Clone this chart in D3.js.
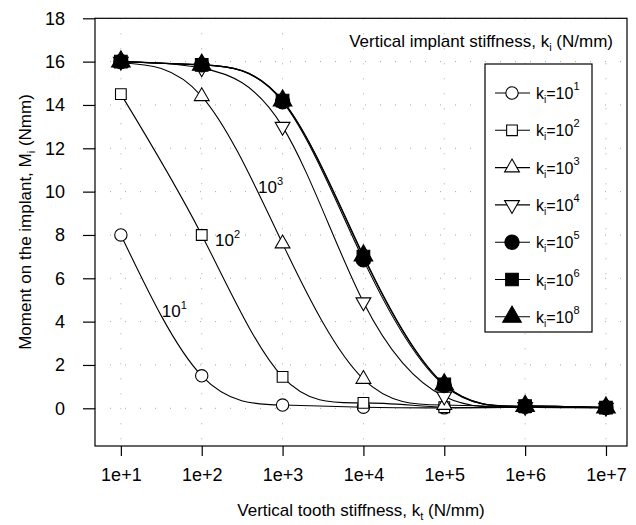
<!DOCTYPE html>
<html><head><meta charset="utf-8">
<script src="https://cdn.jsdelivr.net/npm/d3@7"></script>
<style>
body{margin:0;background:#fff;}
svg{display:block;}
text{font-family:"Liberation Sans",Arial,sans-serif;fill:#000;}
</style></head>
<body><svg id="c" width="636" height="525"></svg>
<script>
const xValues = [1e1, 1e2, 1e3, 1e4, 1e5, 1e6, 1e7];
const xTickLabels = ["1e+1","1e+2","1e+3","1e+4","1e+5","1e+6","1e+7"];
const yTicks = [0,2,4,6,8,10,12,14,16,18];
const seriesNames = ["1","2","3","4","5","6","8"];
const k1 = [8.0, 1.5, 0.15, 0.05, 0.02, 0.05, 0.03];
const k2 = [14.5, 8.0, 1.45, 0.25, 0.05, 0.05, 0.03];
const k3 = [15.95, 14.4, 7.6, 1.35, 0.15, 0.05, 0.03];
const k4 = [16.0, 15.7, 13.0, 4.9, 0.55, 0.07, 0.03];
const k5 = [16.0, 15.85, 14.15, 6.85, 1.05, 0.1, 0.03];
const k6 = [16.0, 15.85, 14.2, 7.0, 1.1, 0.1, 0.03];
const k8 = [16.0, 15.85, 14.2, 7.05, 1.1, 0.1, 0.03];
const seriesValues = [k1,k2,k3,k4,k5,k6,k8];
const curveLabels = [{t:"1", x:32, y:4.2},{t:"2", x:146, y:7.5},{t:"3", x:497, y:9.93}];

const svg = d3.select("#c");
const L=95, R=627, T=18.3, B=446;
const x = d3.scaleLog().domain([Math.pow(10,0.68), Math.pow(10,7.26)]).range([L,R]);
const y = d3.scaleLinear().domain([-1.74,18]).range([B,T]);

// grid (faint dotted)
const g = svg.append("g");
g.selectAll(".gy").data(yTicks).enter().append("line")
 .attr("x1",L).attr("x2",R).attr("y1",d=>y(d)).attr("y2",d=>y(d))
 .attr("stroke","#aaa").attr("stroke-width",1).attr("stroke-dasharray","1,14");
g.selectAll(".gx").data(xValues).enter().append("line")
 .attr("y1",T).attr("y2",B).attr("x1",d=>x(d)).attr("x2",d=>x(d))
 .attr("stroke","#aaa").attr("stroke-width",1).attr("stroke-dasharray","1,14");

// frame
svg.append("rect").attr("x",L).attr("y",T).attr("width",R-L).attr("height",B-T)
 .attr("fill","none").attr("stroke","#000").attr("stroke-width",1.2);

// axes
const ax = svg.append("g").attr("transform",`translate(0,${B})`)
 .call(d3.axisBottom(x).tickValues(xValues).tickFormat((d,i)=>xTickLabels[i]).tickSizeInner(10).tickSizeOuter(0).tickPadding(12));
ax.select(".domain").remove();
ax.selectAll("text").attr("font-size",18).attr("font-family","Liberation Sans, Arial, sans-serif");
ax.selectAll("line").attr("stroke-width",1.2);
const ay = svg.append("g").attr("transform",`translate(${L},0)`)
 .call(d3.axisLeft(y).tickValues(yTicks).tickSizeInner(12).tickSizeOuter(0).tickPadding(18));
ay.select(".domain").remove();
ay.selectAll("text").attr("font-size",18).attr("font-family","Liberation Sans, Arial, sans-serif");
ay.selectAll("line").attr("stroke-width",1.2);

// axis titles
const xt = svg.append("text").attr("x",361).attr("y",516).attr("text-anchor","middle").attr("font-size",17);
xt.append("tspan").text("Vertical tooth stiffness, k");
xt.append("tspan").attr("font-size",11).attr("dy",4).text("t");
xt.append("tspan").attr("dy",-4).text(" (N/mm)");
const yt = svg.append("text").attr("transform","translate(31,222) rotate(-90)").attr("text-anchor","middle").attr("font-size",17);
yt.append("tspan").text("Moment on the implant, M");
yt.append("tspan").attr("font-size",11).attr("dy",4).text("i");
yt.append("tspan").attr("dy",-4).text(" (Nmm)");

// top annotation
const ta = svg.append("text").attr("x",613).attr("y",47).attr("text-anchor","end").attr("font-size",17);
ta.append("tspan").text("Vertical implant stiffness, k");
ta.append("tspan").attr("font-size",11).attr("dy",4).text("i");
ta.append("tspan").attr("dy",-4).text(" (N/mm)");

// markers
const markers = [
 {type:d3.symbolCircle, size:120, fill:"#fff", rot:0},
 {type:d3.symbolSquare, size:115, fill:"#fff", rot:0},
 {type:d3.symbolTriangle, size:95, fill:"#fff", rot:0},
 {type:d3.symbolTriangle, size:95, fill:"#fff", rot:180},
 {type:d3.symbolCircle, size:160, fill:"#000", rot:0},
 {type:d3.symbolSquare, size:160, fill:"#000", rot:0},
 {type:d3.symbolTriangle, size:150, fill:"#000", rot:0}
];

const line = d3.line().x(d=>x(d[0])).y(d=>y(d[1])).curve(d3.curveNatural);
seriesValues.forEach((vals,si)=>{
  const pts = xValues.map((xv,i)=>[xv,vals[i]]);
  svg.append("path").attr("d",line(pts)).attr("fill","none").attr("stroke","#000").attr("stroke-width",1.1);
});
seriesValues.forEach((vals,si)=>{
  const m = markers[si];
  const pts = xValues.map((xv,i)=>[xv,vals[i]]);
  svg.selectAll(null).data(pts).enter().append("path")
   .attr("d",d3.symbol().type(m.type).size(m.size))
   .attr("transform",d=>`translate(${x(d[0])},${y(d[1])}) rotate(${m.rot})`)
   .attr("fill",m.fill).attr("stroke","#000").attr("stroke-width",1.1);
});

// curve labels
curveLabels.forEach(c=>{
  const t = svg.append("text").attr("x",x(c.x)).attr("y",y(c.y)).attr("font-size",17);
  t.append("tspan").text("10");
  t.append("tspan").attr("font-size",11).attr("dy",-8).text(c.t);
});

// legend
const lx=485, ly=64, lw=107, lh=268;
svg.append("rect").attr("x",lx).attr("y",ly).attr("width",lw).attr("height",lh)
 .attr("fill","#fff").attr("stroke","#000").attr("stroke-width",1.2);
seriesNames.forEach((n,i)=>{
  const cy = 93 + i*37.3;
  const m = markers[i];
  svg.append("line").attr("x1",495).attr("x2",530).attr("y1",cy).attr("y2",cy).attr("stroke","#000").attr("stroke-width",1.1);
  svg.append("path").attr("d",d3.symbol().type(m.type).size(m.size))
   .attr("transform",`translate(512,${cy}) rotate(${m.rot})`)
   .attr("fill",m.fill).attr("stroke","#000").attr("stroke-width",1.1);
  const t = svg.append("text").attr("x",536).attr("y",cy+6).attr("font-size",16);
  t.append("tspan").text("k");
  t.append("tspan").attr("font-size",10).attr("dy",4).text("i");
  t.append("tspan").attr("dy",-4).text("=10");
  t.append("tspan").attr("font-size",11).attr("dy",-9).text(n);
});
</script></body></html>
